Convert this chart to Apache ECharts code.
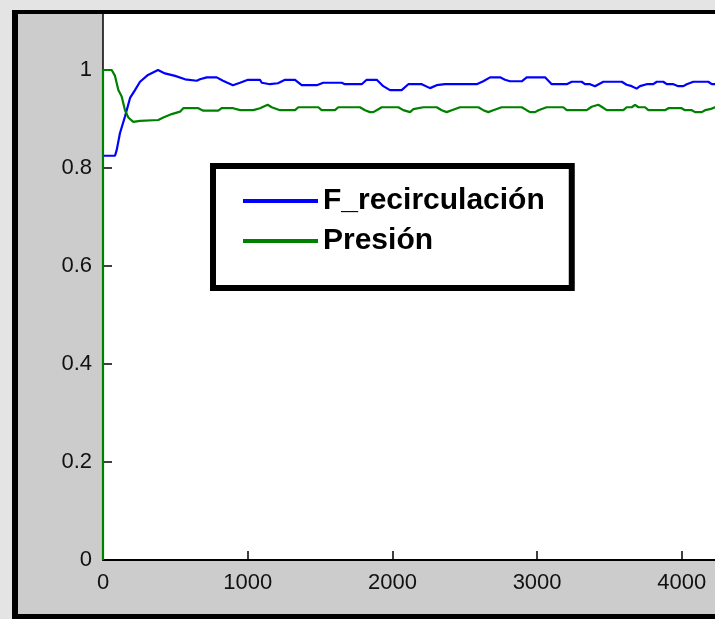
<!DOCTYPE html>
<html>
<head>
<meta charset="utf-8">
<script src="https://cdn.jsdelivr.net/npm/echarts@6/dist/echarts.min.js"></script>
<style>
  html, body { margin: 0; padding: 0; background: #cccccc; }
  #chart { width: 715px; height: 619px; }
</style>
</head>
<body>
<div id="chart"></div>
<script>
// Recirculation flow (normalised) over time
const timeF = [0, 83, 95, 117, 152, 187, 221, 256, 311, 380, 428, 498, 567, 648, 670, 717, 786, 829, 898, 947, 1002, 1085,
  1097, 1154, 1209, 1258, 1327, 1373, 1477, 1522, 1650, 1672, 1788, 1822, 1892, 1937, 1983, 2064, 2110, 2156,
  2203, 2260, 2306, 2364, 2583, 2628, 2675, 2744, 2778, 2813, 2894, 2928, 3055, 3101, 3158, 3170, 3205,
  3239, 3308, 3331, 3366, 3400, 3458, 3585, 3619, 3654, 3688, 3711, 3757, 3803, 3827, 3872, 3896, 3942, 3976,
  4011, 4034, 4080, 4183, 4207, 4229, 4300];
const valuesF = [0.825, 0.825, 0.837, 0.871, 0.905, 0.943, 0.959, 0.976, 0.990, 1.000, 0.993, 0.988, 0.981, 0.978, 0.981, 0.985, 0.985, 0.978, 0.969, 0.974, 0.980, 0.980,
  0.974, 0.971, 0.973, 0.980, 0.980, 0.969, 0.969, 0.974, 0.974, 0.971, 0.971, 0.980, 0.980, 0.967, 0.959, 0.959, 0.971, 0.971,
  0.971, 0.963, 0.969, 0.971, 0.971, 0.977, 0.985, 0.985, 0.980, 0.977, 0.977, 0.985, 0.985, 0.971, 0.971, 0.967, 0.971,
  0.976, 0.976, 0.971, 0.971, 0.967, 0.976, 0.976, 0.970, 0.967, 0.962, 0.967, 0.971, 0.971, 0.976, 0.976, 0.971, 0.971, 0.967,
  0.967, 0.971, 0.976, 0.976, 0.971, 0.971, 0.971];

// Pressure (normalised) over time
const timeP = [0, 0, 60, 83, 106, 129, 152, 175, 209, 256, 382, 417, 475, 532, 555, 659, 693, 797, 820, 900, 947, 1039, 1085,
  1097, 1138, 1166, 1223, 1327, 1350, 1488, 1511, 1603, 1626, 1776, 1811, 1845, 1868, 1903, 1926, 2041, 2075, 2122, 2144,
  2156, 2214, 2306, 2341, 2375, 2410, 2467, 2594, 2628, 2663, 2697, 2755, 2894, 2928, 2951, 2986, 3009, 3066, 3181, 3205,
  3343, 3377, 3423, 3446, 3481, 3596, 3619, 3654, 3677, 3700, 3746, 3769, 3884, 3907, 3999, 4022, 4069, 4092, 4138, 4161,
  4195, 4229, 4300];
const valuesP = [0, 1.000, 1.000, 0.988, 0.959, 0.946, 0.918, 0.903, 0.894, 0.896, 0.898, 0.903, 0.910, 0.915, 0.922, 0.922, 0.917, 0.917, 0.922, 0.922, 0.918, 0.918, 0.922,
  0.922, 0.929, 0.924, 0.918, 0.918, 0.924, 0.924, 0.918, 0.918, 0.924, 0.924, 0.918, 0.914, 0.914, 0.920, 0.924, 0.924, 0.918, 0.914, 0.920,
  0.920, 0.924, 0.924, 0.918, 0.914, 0.918, 0.924, 0.924, 0.918, 0.914, 0.918, 0.924, 0.924, 0.918, 0.914, 0.914, 0.918, 0.924, 0.924, 0.918,
  0.918, 0.925, 0.929, 0.925, 0.918, 0.918, 0.924, 0.924, 0.929, 0.924, 0.924, 0.918, 0.918, 0.922, 0.922, 0.918, 0.918, 0.914, 0.914, 0.918,
  0.920, 0.924, 0.924];

const seriesNames = ['F_recirculación', 'Presión'];
const xTicks = { min: 0, max: 5000, interval: 1000 };
const yTicks = { min: 0, max: 1.2, interval: 0.2 };

const pairs = (xs, ys) => xs.map((x, i) => [x, ys[i]]);

const chart = echarts.init(document.getElementById('chart'), null, { renderer: 'canvas' });
const labelFont = { fontFamily: 'Liberation Sans, Arial, sans-serif', fontSize: 22, color: '#111' };
const plain = v => String(Math.round(v * 10) / 10);

chart.setOption({
  backgroundColor: '#cccccc',
  animation: false,
  grid: {
    left: 103, bottom: 59, width: 723.5, height: 588,
    outerBoundsMode: 'none', containLabel: false,
    show: true, backgroundColor: '#ffffff', borderWidth: 0
  },
  xAxis: {
    type: 'value', min: xTicks.min, max: xTicks.max, interval: xTicks.interval,
    axisLine: { onZero: false, lineStyle: { color: '#000', width: 2 } },
    axisTick: { inside: true, length: 9, lineStyle: { color: '#000', width: 1.5 } },
    axisLabel: Object.assign({ margin: 12, formatter: plain }, labelFont),
    splitLine: { show: false }
  },
  yAxis: {
    type: 'value', min: yTicks.min, max: yTicks.max, interval: yTicks.interval,
    axisLine: { show: true, onZero: false, lineStyle: { color: '#000', width: 1.5 } },
    axisTick: { show: true, inside: true, length: 9, lineStyle: { color: '#000', width: 1.5 } },
    axisLabel: Object.assign({ margin: 11, formatter: plain }, labelFont),
    splitLine: { show: false }
  },
  legend: {
    left: 213, top: 166,
    orient: 'vertical',
    backgroundColor: '#ffffff',
    borderColor: '#000', borderWidth: 6, borderRadius: 0,
    padding: [20, 27, 32, 30],
    itemGap: 10,
    itemWidth: 75, itemHeight: 4,
    icon: 'rect',
    selectedMode: false,
    textStyle: { fontFamily: 'Liberation Sans, Arial, sans-serif', fontSize: 30, fontWeight: 'bold', color: '#000' },
    data: seriesNames
  },
  series: [
    {
      name: seriesNames[0], type: 'line', data: pairs(timeF, valuesF),
      showSymbol: false, color: '#0000ff', lineStyle: { width: 2.2, color: '#0000ff' }
    },
    {
      name: seriesNames[1], type: 'line', data: pairs(timeP, valuesP),
      showSymbol: false, color: '#008000', lineStyle: { width: 2.2, color: '#008000' }
    }
  ],
  graphic: [
    // window frame around the axes
    { type: 'rect', z: 100, shape: { x: 0, y: 0, width: 715, height: 10 }, style: { fill: '#e4e4e4' } },
    { type: 'rect', z: 100, shape: { x: 0, y: 0, width: 12, height: 619 }, style: { fill: '#e4e4e4' } },
    { type: 'rect', z: 101, shape: { x: 12, y: 10, width: 703, height: 4 }, style: { fill: '#000' } },
    { type: 'rect', z: 101, shape: { x: 12, y: 10, width: 6, height: 609 }, style: { fill: '#000' } },
    { type: 'rect', z: 101, shape: { x: 12, y: 614, width: 703, height: 5 }, style: { fill: '#000' } }
  ]
});
</script>
</body>
</html>
